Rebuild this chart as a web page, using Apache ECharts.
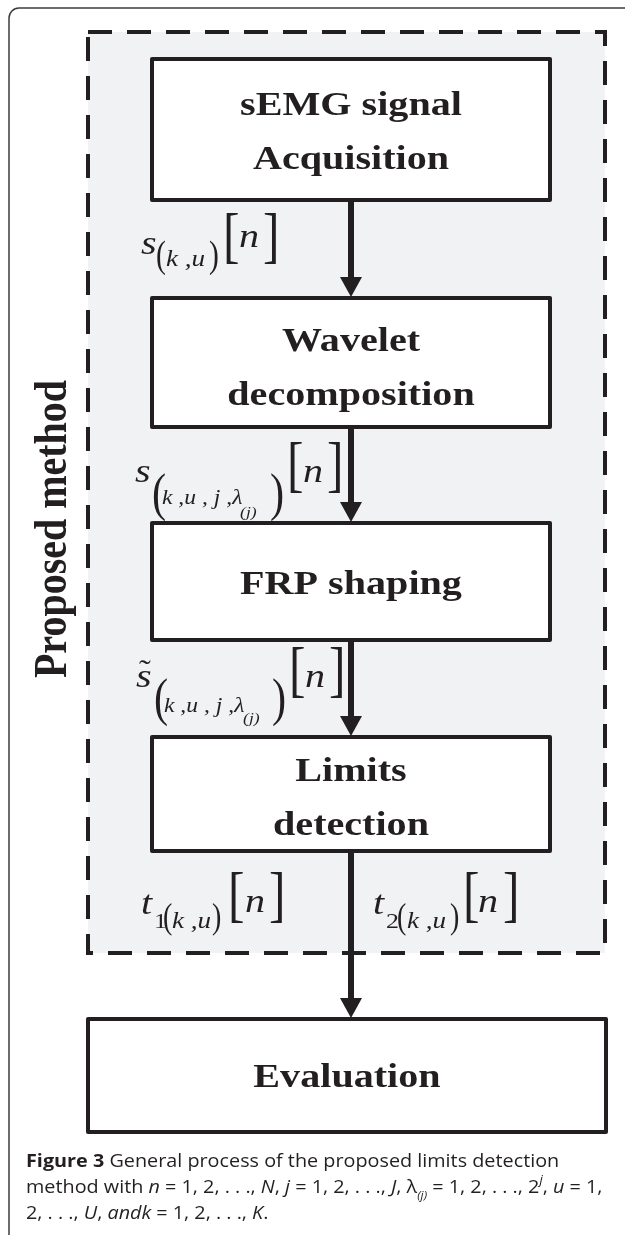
<!DOCTYPE html>
<html>
<head>
<meta charset="utf-8">
<script src="https://cdn.jsdelivr.net/npm/echarts@6/dist/echarts.min.js"></script>
<style>
html,body{margin:0;padding:0;background:#ffffff;}
#chart{width:625px;height:1235px;}
</style>
</head>
<body>
<div id="chart"></div>
<script>
// ---------- content (data) ----------
const steps = ['sEMG signal\nAcquisition', 'Wavelet\ndecomposition', 'FRP shaping', 'Limits\ndetection', 'Evaluation'];
const groupTitle = 'Proposed method';
const flows = [[0, 1], [1, 2], [2, 3], [3, 4]];
const signalLabels = ['s(k,u)[n]', 's(k,u,j,λ(j))[n]', 's̃(k,u,j,λ(j))[n]', 't1(k,u)[n]', 't2(k,u)[n]'];
const signalParts = [
  ['s', '(', 'k ,u', ')', '[', 'n', ']'],
  ['s', '(', 'k ,u , j ,λ', '(j)', ')', '[', 'n', ']'],
  ['˜', 's', '(', 'k ,u , j ,λ', '(j)', ')', '[', 'n', ']'],
  ['t', '1', '(', 'k ,u', ')', '[', 'n', ']'],
  ['t', '2', '(', 'k ,u', ')', '[', 'n', ']']
];
const captionLines = [
  '{b|Figure 3} General process of the proposed limits detection',
  'method with {i|n} = 1, 2, . . ., {i|N}, {i|j} = 1, 2, . . ., {i|J}, λ{sub|(j)} = 1, 2, . . ., 2{sup|j}, {i|u} = 1,',
  '2, . . ., {i|U}, {i|andk} = 1, 2, . . ., {i|K}.'
];

// ---------- layout & style ----------
const W = 625, H = 1235;
const INK = '#231f20';
const SERIF = "'Liberation Serif','Times New Roman',serif";
const SANS = "'Open Sans','Noto Sans',sans-serif";
const SX = 1.18;
const LAYOUT = {
  dash: { x0: 88, x1: 605, y0: 32, y1: 953 },
  title: { x: 54, y: 529 },
  boxes: [
    { x0: 152, x1: 550, y0: 59, y1: 200, lines: [106, 160] },
    { x0: 152, x1: 550, y0: 298, y1: 427, lines: [342, 396] },
    { x0: 152, x1: 550, y0: 523, y1: 640, lines: [585] },
    { x0: 152, x1: 550, y0: 737, y1: 851, lines: [772, 826] },
    { x0: 88, x1: 606, y0: 1019, y1: 1132, lines: [1078] }
  ],
  arrowX: 351,
  // piece: [xLeft, baseline, fontSize, italic, scaleX]
  signals: [
    [[141, 257, 34, 1, SX], [156, 270, 37, 0, 0.8], [166, 268, 23, 1, SX], [209, 270, 37, 0, 0.8], [223, 261, 62, 0, 0.8], [239, 250, 34, 1, SX], [263, 261, 62, 0, 0.8]],
    [[135, 485, 34, 1, SX], [152, 514, 53, 0, 0.8], [162, 505, 20, 1, SX], [240, 518, 15, 1, SX], [270, 514, 53, 0, 0.8], [287, 490, 62, 0, 0.8], [303, 485, 34, 1, SX], [327, 490, 62, 0, 0.8]],
    [[139, 682, 30, 0, SX], [136, 690, 34, 1, SX], [154, 719, 53, 0, 0.8], [164, 713, 20, 1, SX], [243, 724, 15, 1, SX], [272, 719, 53, 0, 0.8], [289, 695, 62, 0, 0.8], [305, 690, 34, 1, SX], [329, 695, 62, 0, 0.8]],
    [[141, 917, 34, 1, SX], [154, 930, 22, 0, SX], [163, 931, 35, 0, 0.8], [172, 930, 23, 1, SX], [212, 931, 35, 0, 0.8], [228, 920, 62, 0, 0.8], [245, 915, 34, 1, SX], [269, 920, 62, 0, 0.8]],
    [[373, 917, 34, 1, SX], [386, 930, 22, 0, SX], [397, 931, 35, 0, 0.8], [407, 930, 23, 1, SX], [450, 931, 35, 0, 0.8], [463, 920, 62, 0, 0.8], [478, 915, 34, 1, SX], [503, 920, 62, 0, 0.8]]
  ]
};
const MID = 0.3375; // em distance from baseline to canvas "middle"

function textEl(x, y, text, opt) {
  return {
    type: 'text', x: x, y: y,
    scaleX: opt.scaleX || 1, scaleY: opt.scaleY || 1, rotation: opt.rotation || 0,
    style: {
      text: text, fill: INK,
      fontFamily: opt.fontFamily || SERIF,
      fontSize: opt.fontSize, fontWeight: opt.fontWeight || 'normal', fontStyle: opt.fontStyle || 'normal',
      align: opt.align || 'left', textAlign: opt.align || 'left',
      verticalAlign: 'middle', textVerticalAlign: 'middle'
    }
  };
}

function renderGroup(params, api) {
  const d = LAYOUT.dash;
  const a = api.coord([d.x0, d.y0]), b = api.coord([d.x1, d.y1]);
  const t = api.coord([LAYOUT.title.x, LAYOUT.title.y]);
  return {
    type: 'group', children: [
      { type: 'rect', shape: { x: a[0], y: a[1], width: b[0] - a[0], height: b[1] - a[1] },
        style: { fill: '#f1f2f4', stroke: INK, lineWidth: 4, lineDash: [24, 15] } },
      textEl(t[0], t[1], groupTitle, { fontSize: 40, fontWeight: 'bold', align: 'center', rotation: Math.PI / 2, scaleY: SX })
    ]
  };
}

function renderStep(params, api) {
  const bx = LAYOUT.boxes[params.dataIndex];
  const a = api.coord([bx.x0, bx.y0]), b = api.coord([bx.x1, bx.y1]);
  const lines = steps[params.dataIndex].split('\n');
  const children = [{ type: 'rect', shape: { x: a[0], y: a[1], width: b[0] - a[0], height: b[1] - a[1] },
    style: { fill: '#ffffff', stroke: INK, lineWidth: 4, lineJoin: 'round' } }];
  lines.forEach(function (ln, j) {
    const p = api.coord([(bx.x0 + bx.x1) / 2, bx.lines[j]]);
    children.push(textEl(p[0], p[1], ln, { fontSize: 34, fontWeight: 'bold', align: 'center', scaleX: SX }));
  });
  return { type: 'group', children: children };
}

function renderFlow(params, api) {
  const f = flows[params.dataIndex];
  const from = LAYOUT.boxes[f[0]], to = LAYOUT.boxes[f[1]];
  const s = api.coord([LAYOUT.arrowX, from.y1]);
  const e = api.coord([LAYOUT.arrowX, to.y0]);
  return {
    type: 'group', children: [
      { type: 'line', shape: { x1: s[0], y1: s[1], x2: e[0], y2: e[1] - 16 }, style: { stroke: INK, lineWidth: 6 } },
      { type: 'polygon', shape: { points: [[e[0] - 11, e[1] - 21], [e[0] + 11, e[1] - 21], [e[0], e[1] - 1]] }, style: { fill: INK } }
    ]
  };
}

function renderSignal(params, api) {
  const parts = signalParts[params.dataIndex];
  const lay = LAYOUT.signals[params.dataIndex];
  const children = parts.map(function (txt, k) {
    const q = lay[k];
    const p = api.coord([q[0], q[1] - MID * q[2]]);
    return textEl(p[0], p[1], txt, { fontSize: q[2], fontStyle: q[3] ? 'italic' : 'normal', scaleX: q[4] });
  });
  return { type: 'group', children: children };
}

const chart = echarts.init(document.getElementById('chart'), null, { renderer: 'canvas', width: W, height: H });
chart.setOption({
  animation: false,
  backgroundColor: '#ffffff',
  grid: { left: 0, right: 0, top: 0, bottom: 0 },
  xAxis: { type: 'value', min: 0, max: W, show: false },
  yAxis: { type: 'value', min: 0, max: H, inverse: true, show: false },
  graphic: [
    { type: 'rect', z: -10, shape: { x: 9, y: 8, width: 720, height: 1400, r: 10 },
      style: { fill: 'none', stroke: '#3d3d3d', lineWidth: 1.5 } },
    { type: 'text', x: 26, y: 1149, z: 10, scaleX: 1.1,
      style: {
        text: captionLines.join('\n'), fill: INK, fontFamily: SANS, fontSize: 18, lineHeight: 26,
        rich: {
          b: { fontFamily: SANS, fontSize: 18, fontWeight: 'bold', fill: INK, lineHeight: 26 },
          i: { fontFamily: SANS, fontSize: 18, fontStyle: 'italic', fill: INK, lineHeight: 26 },
          sub: { fontFamily: SANS, fontSize: 11, fontStyle: 'italic', fill: INK, lineHeight: 12, verticalAlign: 'bottom' },
          sup: { fontFamily: SANS, fontSize: 12, fontStyle: 'italic', fill: INK, lineHeight: 12, verticalAlign: 'top' }
        }
      } }
  ],
  series: [
    { type: 'custom', name: 'group', z: 1, clip: false, silent: true, data: [[0, 0]], renderItem: renderGroup },
    { type: 'custom', name: 'flows', z: 2, clip: false, silent: true, data: flows.map(function (f, i) { return [i, 0]; }), renderItem: renderFlow },
    { type: 'custom', name: 'steps', z: 3, clip: false, silent: true, data: steps.map(function (s, i) { return { name: s, value: [i, 0] }; }), renderItem: renderStep },
    { type: 'custom', name: 'signals', z: 4, clip: false, silent: true, data: signalLabels.map(function (s, i) { return { name: s, value: [i, 0] }; }), renderItem: renderSignal }
  ]
});
</script>
</body>
</html>
